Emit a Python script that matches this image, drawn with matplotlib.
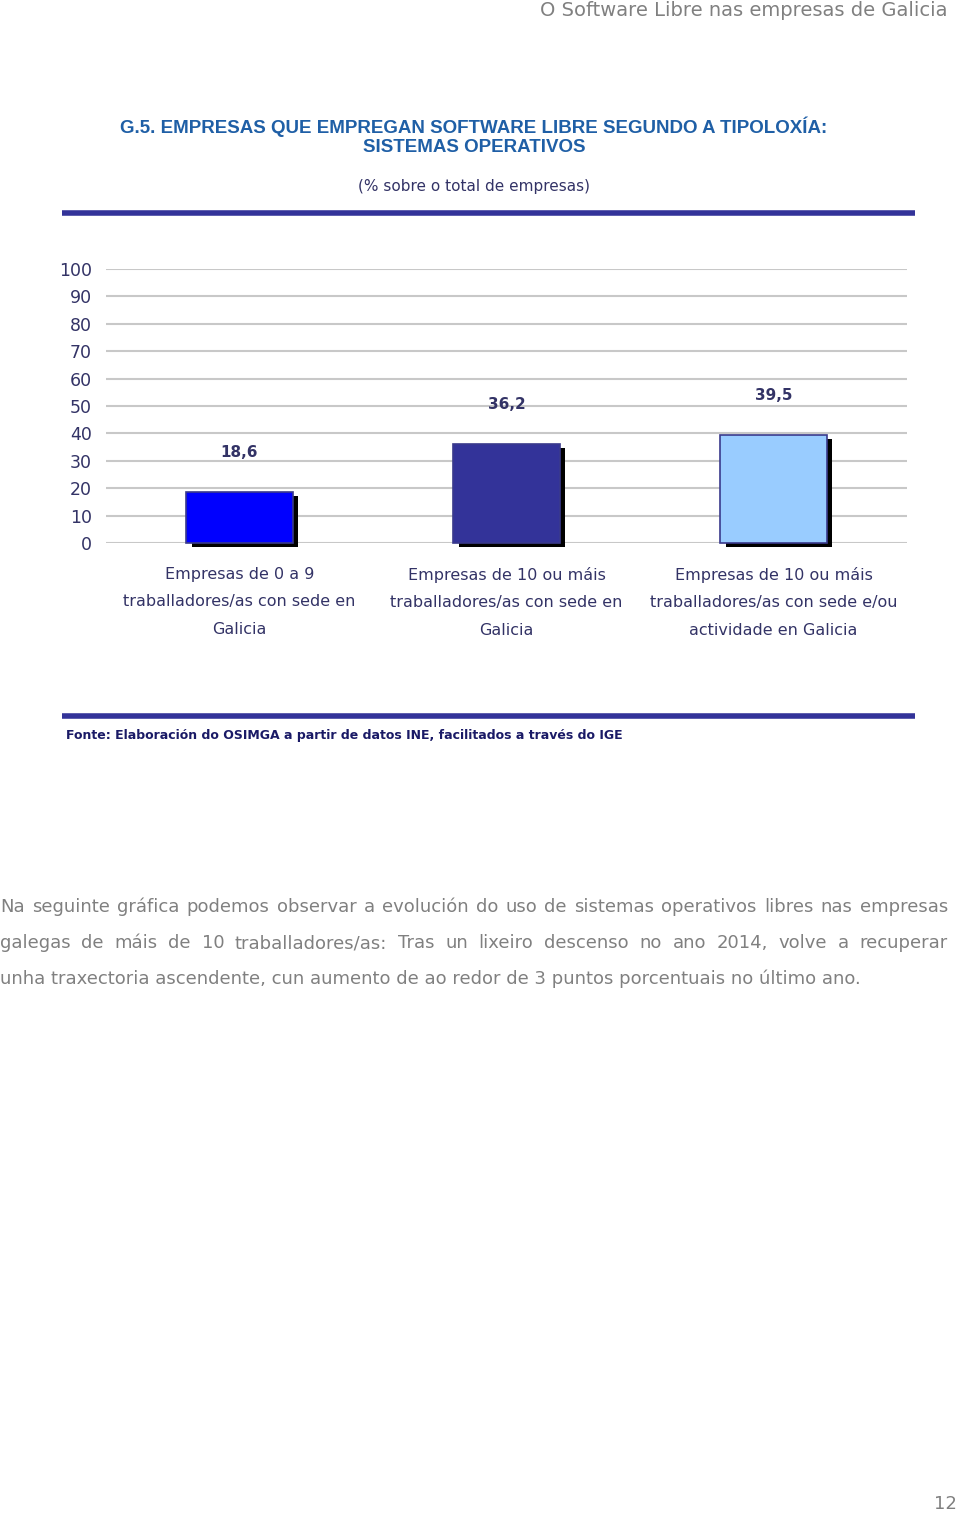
import matplotlib.pyplot as plt
import matplotlib.patheffects as pe

# --- Data ---
categories = [
    'Empresas de 0 a 9\ntraballadores/as con sede en\nGalicia',
    'Empresas de 10 ou máis\ntraballadores/as con sede en\nGalicia',
    'Empresas de 10 ou máis\ntraballadores/as con sede e/ou\nactividade en Galicia',
]
values = [18.6, 36.2, 39.5]
bar_colors = ['#0000ff', '#333399', '#99ccff']
y_ticks = list(range(0, 101, 10))

navy = '#333366'
title_blue = '#1f5fa6'
gray = '#808080'

fig = plt.figure(figsize=(9.6, 15.14), dpi=100)
W, H = 960, 1514

def fx(px):
    return px / W

def fy(py):
    return 1 - py / H

# --- Page header / titles ---
fig.text(fx(948), fy(10), 'O Software Libre nas empresas de Galicia', ha='right', va='center',
         fontsize=14, color=gray)
fig.text(fx(474), fy(127), 'G.5. EMPRESAS QUE EMPREGAN SOFTWARE LIBRE SEGUNDO A TIPOLOXÍA:',
         ha='center', va='center', fontsize=13.5, fontweight='bold', color=title_blue,
         family=['Liberation Sans', 'DejaVu Sans'])
fig.text(fx(474), fy(148), 'SISTEMAS OPERATIVOS',
         ha='center', va='center', fontsize=13.5, fontweight='bold', color=title_blue,
         family=['Liberation Sans', 'DejaVu Sans'])
fig.text(fx(474), fy(187), '(% sobre o total de empresas)', ha='center', va='center',
         fontsize=11, color=navy)

# thick rules above and below the chart
for ry in (213, 716):
    fig.add_artist(plt.Line2D([fx(62), fx(915)], [fy(ry), fy(ry)], color='#333399', lw=4,
                              solid_capstyle='butt'))

# --- Chart ---
ax = fig.add_axes([fx(106), fy(543), fx(907) - fx(106), fy(269) - fy(543)])
x = range(len(values))
bars = ax.bar(x, values, width=0.4, color=bar_colors, edgecolor='#3a3a8c', linewidth=1.2,
              zorder=3, clip_on=False)
for b in bars:
    b.set_path_effects([pe.SimplePatchShadow(offset=(4, -3), shadow_rgbFace='black', alpha=1),
                        pe.Normal()])

for i, v in enumerate(values):
    ax.text(i, v + 14.5, f'{v:.1f}'.replace('.', ','), ha='center', va='center',
            fontsize=11, fontweight='bold', color=navy)

ax.set_xlim(-0.5, 2.5)
ax.set_ylim(0, 100)
ax.set_yticks(y_ticks)
ax.yaxis.grid(True, color='#c8c8c8', lw=1.5, zorder=0)
ax.set_xticks(list(x))
ax.set_xticklabels(categories, fontsize=11.5, color=navy, linespacing=2.05)
ax.tick_params(axis='y', length=0, pad=10, labelsize=12.5, labelcolor=navy)
ax.tick_params(axis='x', length=0, pad=17)
for s in ax.spines.values():
    s.set_visible(False)
ax.set_axisbelow(True)

fig.text(fx(66), fy(736), 'Fonte: Elaboración do OSIMGA a partir de datos INE, facilitados a través do IGE',
         ha='left', va='center', fontsize=9, fontweight='bold', color='#1a1a66')

# --- Body text (justified lines except the last) ---
body = [
    'Na seguinte gráfica podemos observar a evolución do uso de sistemas operativos libres nas empresas',
    'galegas de máis de 10 traballadores/as: Tras un lixeiro descenso no ano 2014, volve a recuperar',
    'unha traxectoria ascendente, cun aumento de ao redor de 3 puntos porcentuais no último ano.',
]
renderer = fig.canvas.get_renderer()
left, right = 0, 948
for k, line in enumerate(body):
    yy = fy(907 + 36 * k)
    if k == len(body) - 1:
        fig.text(fx(left), yy, line, ha='left', va='center', fontsize=13, color=gray)
        continue
    words = line.split()
    arts = [fig.text(0, yy, w, ha='left', va='center', fontsize=13, color=gray) for w in words]
    widths = [a.get_window_extent(renderer).width for a in arts]
    gap = (right - left - sum(widths)) / (len(words) - 1)
    pos = left
    for a, w in zip(arts, widths):
        a.set_x(fx(pos))
        pos += w + gap

fig.text(fx(957), fy(1504), '12', ha='right', va='center', fontsize=13, color=gray)

fig.savefig('out.png', dpi=100)
